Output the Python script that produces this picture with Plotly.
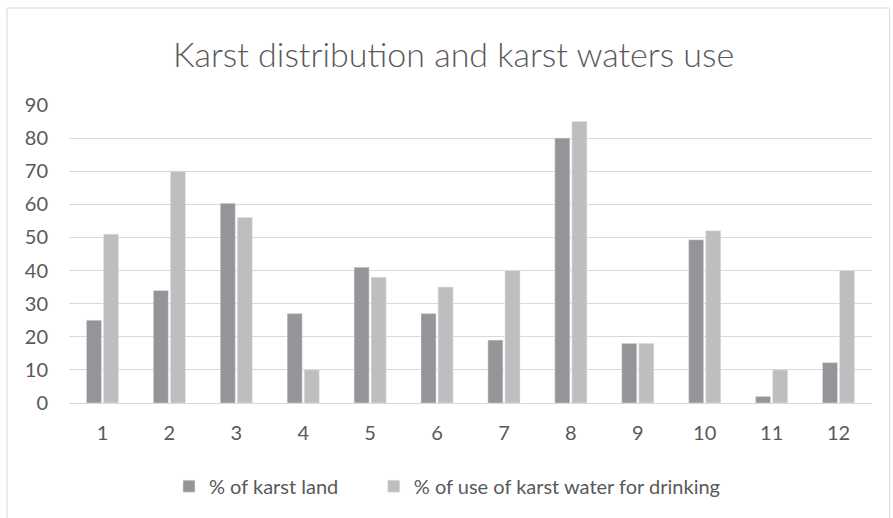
import plotly.graph_objects as go

categories = ["1", "2", "3", "4", "5", "6", "7", "8", "9", "10", "11", "12"]
karst_land = [25, 34, 60.3, 27, 41, 27, 19, 80, 18, 49.3, 2, 12.2]
karst_drinking = [51, 70, 56, 10, 38, 35, 40, 85, 18, 52, 10, 40]
y_ticks = [0, 10, 20, 30, 40, 50, 60, 70, 80, 90]

font_family = "Lato, 'Open Sans', sans-serif"
text_color = "#595959"

fig = go.Figure()
fig.add_trace(go.Bar(
    x=categories, y=karst_land, name="% of karst land", legend="legend",
    marker=dict(color="#939598", line=dict(color="#e6e6e6", width=0.5)),
))
fig.add_trace(go.Bar(
    x=categories, y=karst_drinking, name="% of use of karst water for drinking",
    legend="legend2",
    marker=dict(color="#bcbec0", line=dict(color="#e6e6e6", width=0.5)),
))

legend_common = dict(orientation="h", y=-0.279, yanchor="middle", xanchor="left",
                     font=dict(size=20, color=text_color), itemwidth=30,
                     bgcolor="rgba(0,0,0,0)")

fig.update_layout(
    width=893, height=518,
    margin=dict(l=69, r=21, t=105, b=115),
    paper_bgcolor="white", plot_bgcolor="white",
    barmode="group", bargap=0.49, bargroupgap=0.12,
    title=dict(text="Karst distribution and karst waters use",
               xref="container", x=0.508, xanchor="center",
               yref="container", y=0.894, yanchor="middle",
               font=dict(family=font_family, size=34, color=text_color, weight=300)),
    font=dict(family=font_family, size=20, color=text_color),
    legend=dict(x=0.1245, **legend_common),
    legend2=dict(x=0.3795, **legend_common),
    showlegend=True,
)
fig.update_yaxes(range=[0, 90], tickvals=y_ticks, showgrid=True,
                 gridcolor="#d9d9d9", gridwidth=1, zeroline=False,
                 showline=False, ticks="", ticklabelstandoff=20,
                 tickfont=dict(size=20, color=text_color))
fig.update_xaxes(showgrid=False, showline=True, linecolor="#d9d9d9", linewidth=1,
                 ticks="", tickfont=dict(size=20, color=text_color),
                 ticklabelstandoff=12)

fig.add_shape(type="rect", xref="paper", yref="paper",
              x0=-0.0772, x1=1.022, y0=-0.45, y1=1.3255,
              line=dict(color="#d9d9d9", width=1), fillcolor="rgba(0,0,0,0)",
              layer="below")

fig.write_html("out.html", config={"displayModeBar": False},
               post_script="document.body.style.margin='0';")
